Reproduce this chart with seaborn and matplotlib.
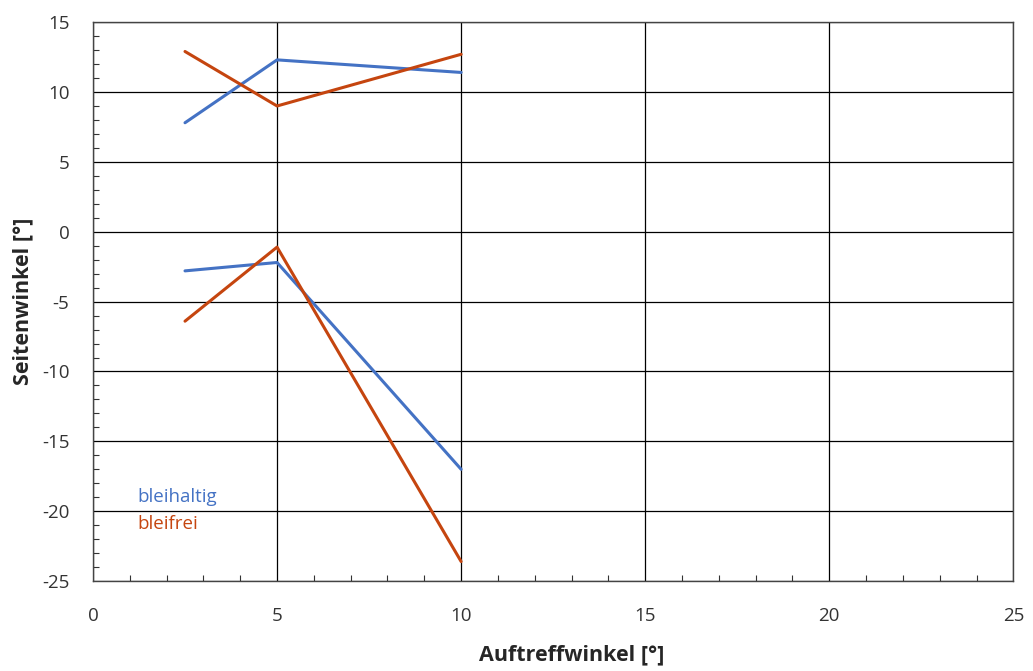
import matplotlib
matplotlib.use("Agg")
import matplotlib.pyplot as plt
import seaborn as sns
import pandas as pd
from matplotlib.ticker import MultipleLocator

sns.set_theme(style="white")
plt.rcParams['font.family'] = ['Open Sans', 'DejaVu Sans']
plt.rcParams['axes.unicode_minus'] = False

# Data
x_vals = [2.5, 5, 10]
bleihaltig_upper = [7.8, 12.3, 11.4]
bleihaltig_lower = [-2.8, -2.2, -17.0]
bleifrei_upper = [12.9, 9.0, 12.7]
bleifrei_lower = [-6.4, -1.1, -23.6]

blue = "#4472C4"
red = "#C5450F"

rows = []
for name, grp, vals in [("bleihaltig", "oben", bleihaltig_upper),
                        ("bleihaltig", "unten", bleihaltig_lower),
                        ("bleifrei", "oben", bleifrei_upper),
                        ("bleifrei", "unten", bleifrei_lower)]:
    for x, y in zip(x_vals, vals):
        rows.append({"Auftreffwinkel": x, "Seitenwinkel": y, "Serie": name, "Ast": grp})
df = pd.DataFrame(rows)

fig = plt.figure(figsize=(10.33, 6.71), dpi=100)
ax = fig.add_axes([0.090, 0.134, 0.891, 0.833])

sns.lineplot(data=df, x="Auftreffwinkel", y="Seitenwinkel", hue="Serie",
             units="Ast", estimator=None, palette={"bleihaltig": blue, "bleifrei": red},
             linewidth=2.2, legend=False, ax=ax, zorder=3, sort=False)

ax.set_xlim(0, 25)
ax.set_ylim(-25, 15)
ax.xaxis.set_major_locator(MultipleLocator(5))
ax.yaxis.set_major_locator(MultipleLocator(5))
ax.xaxis.set_minor_locator(MultipleLocator(1))
ax.yaxis.set_minor_locator(MultipleLocator(1))
ax.grid(True, which="major", color="black", linewidth=0.9)
ax.tick_params(which="major", length=0, labelsize=13.5, colors="#333333")
ax.tick_params(axis="x", which="major", pad=19)
ax.tick_params(axis="y", which="major", pad=17)
ax.tick_params(which="minor", direction="in", length=4, width=0.8, color="#333333",
               bottom=True, left=True, top=False, right=False)
for s in ax.spines.values():
    s.set_color("#444444")
    s.set_linewidth(1.0)

ax.set_xlabel("Auftreffwinkel [°]", fontsize=15.5, fontweight="bold")
ax.set_ylabel("Seitenwinkel [°]", fontsize=15.5, fontweight="bold", labelpad=6)
ax.xaxis.set_label_coords(0.52, -0.113)

ax.text(1.2, -19.0, "bleihaltig", color=blue, fontsize=13.5, va="center", ha="left")
ax.text(1.2, -20.9, "bleifrei", color=red, fontsize=13.5, va="center", ha="left")

fig.savefig("out.png", dpi=100)
